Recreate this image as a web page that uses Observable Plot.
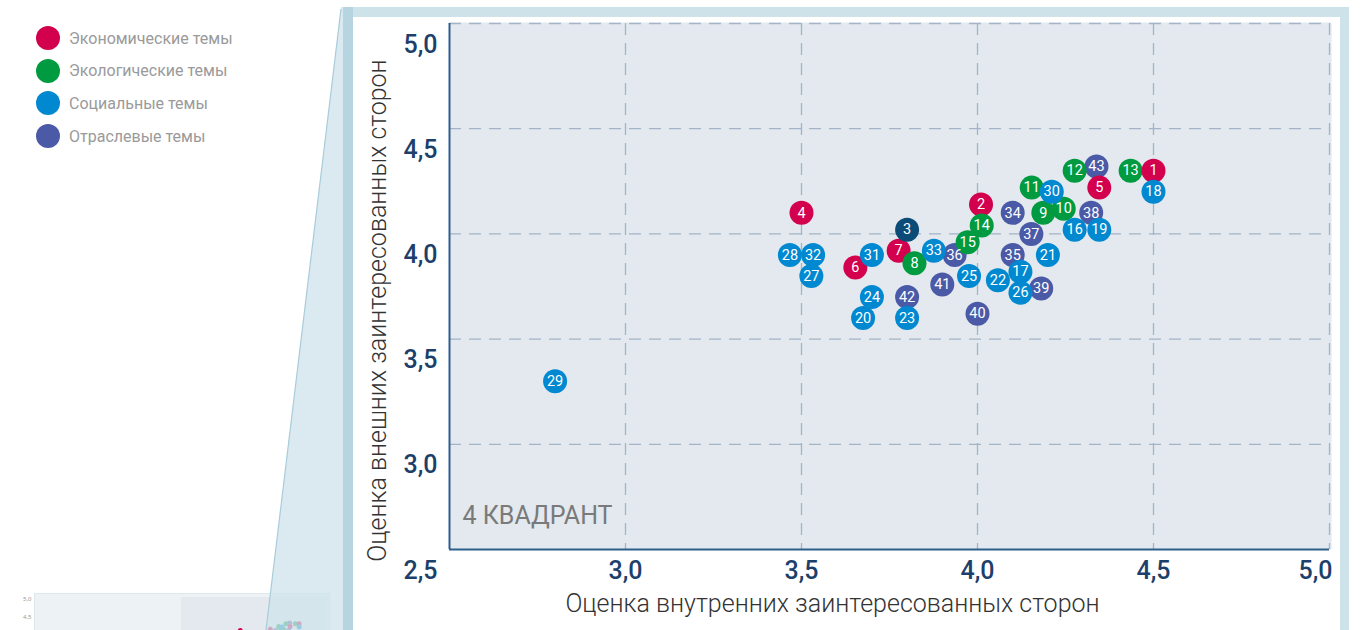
<!DOCTYPE html>
<html><head><meta charset="utf-8">
<script src="https://cdn.jsdelivr.net/npm/d3@7"></script>
<script src="https://cdn.jsdelivr.net/npm/@observablehq/plot@0.6"></script>
<style>
body{margin:0;background:#fff;font-family:Roboto,"Noto Sans",sans-serif;}
#wrap{position:relative;width:1363px;height:630px;overflow:hidden;background:#fff;}
.abs{position:absolute;}
#legend .item{position:absolute;left:36px;height:24px;display:flex;align-items:center;}
#legend .sw{width:24px;height:24px;border-radius:50%;margin-right:9px;}
#legend .lb{font-size:16px;color:#9a9a9a;font-weight:400;}
</style></head><body>
<div id="wrap">
  <div class="abs" style="left:343px;top:7px;width:1006px;height:623px;background:#cee2ea;"></div>
  <div class="abs" style="left:353px;top:17px;width:987px;height:613px;background:#fff;"></div>
  <div class="abs" style="left:34px;top:593px;width:294px;height:40px;background:#edf2f5;border:1px solid #dce8ee;"></div>
  <div class="abs" style="left:181px;top:597px;width:146px;height:40px;background:#e3e9ee;"></div>
  <div id="thumb" class="abs" style="left:0;top:593px;"></div>
  <svg class="abs" style="left:0;top:0" width="1363" height="630">
    <polygon points="341,7 266,630 343,630 343,7" fill="#cfe3eb" fill-opacity="0.75"/>
    <line x1="341" y1="9" x2="266" y2="630" stroke="#a9ccd9" stroke-width="1.2"/>
    <rect x="343" y="7" width="10" height="623" fill="#b7d5e1"/>
  </svg>
  <div id="legend" class="abs" style="left:0;top:0;width:340px;height:170px;"></div>
  <div id="main" class="abs" style="left:0;top:0;"></div>
</div>
<script>
// Categories
const catKeys = ["econ", "eco", "soc", "ind", "other"];
const catLabels = ["Экономические темы", "Экологические темы", "Социальные темы", "Отраслевые темы", ""];
const catColors = ["#d3004e", "#009b40", "#0088d0", "#4b5aa6", "#0c4a77"];

// Points (in drawing order)
const pointIds = [34,35,36,37,38,39,40,41,42,43, 2,7, 8,9,10,11,12,13,14,15, 1,4,5,6, 3,
  16,17,18,19,20,21,22,23,24,25,26,27,28,29,30,31,32,33];
const internalScores = [4.10,4.10,3.935,4.153,4.323,4.181,4.00,3.90,3.80,4.338, 4.01,3.776,
  3.821,4.187,4.245,4.154,4.276,4.435,4.012,3.972, 4.5,3.5,4.346,3.653, 3.80,
  4.276,4.122,4.5,4.346,3.675,4.20,4.058,3.80,3.70,3.976,4.122,3.528,3.467,2.80,4.211,3.70,3.533,3.876];
const externalScores = [4.10,3.90,3.90,4.00,4.10,3.74,3.62,3.76,3.70,4.32, 4.14,3.92,
  3.86,4.10,4.12,4.22,4.30,4.30,4.04,3.96, 4.30,4.10,4.22,3.84, 4.02,
  4.02,3.82,4.20,4.02,3.60,3.90,3.78,3.60,3.70,3.80,3.72,3.80,3.90,3.30,4.20,3.90,3.90,3.92];
const pointCats = ["ind","ind","ind","ind","ind","ind","ind","ind","ind","ind", "econ","econ",
  "eco","eco","eco","eco","eco","eco","eco","eco", "econ","econ","econ","econ", "other",
  "soc","soc","soc","soc","soc","soc","soc","soc","soc","soc","soc","soc","soc","soc","soc","soc","soc","soc"];

// Axis ticks & texts
const yTicks = [2.5, 3.0, 3.5, 4.0, 4.5, 5.0];
const xTicks = [3.0, 3.5, 4.0, 4.5];
const xLastTick = [5.0];
const gridTicks = [3.0, 3.5, 4.0, 4.5, 5.0];
const xTitle = "Оценка внутренних заинтересованных сторон";
const yTitle = "Оценка внешних заинтересованных сторон";
const quadrantLabel = "4 КВАДРАНТ";
const thumbTicks = [4.5, 5.0];

const rows = pointIds.map((id, i) => ({id, x: internalScores[i], y: externalScores[i], cat: pointCats[i]}));
const fmt = d => d.toFixed(1).replace(".", ",");

// Legend
const legend = document.getElementById("legend");
catKeys.forEach((k, i) => {
  if (!catLabels[i]) return;
  const it = document.createElement("div");
  it.className = "item";
  it.style.top = (26 + i * 32.7) + "px";
  it.innerHTML = `<div class="sw" style="background:${catColors[i]}"></div><div class="lb">${catLabels[i]}</div>`;
  legend.appendChild(it);
});

const colorScale = {domain: catKeys, range: catColors};

// Main chart
const main = Plot.plot({
  width: 1363, height: 630,
  marginLeft: 449, marginRight: 34, marginTop: 23, marginBottom: 81,
  style: {background: "transparent", color: "#1d3f6b", fontFamily: "Roboto, sans-serif", overflow: "visible"},
  x: {domain: [2.5, 5]},
  y: {domain: [2.5, 5]},
  color: colorScale,
  marks: [
    Plot.frame({fill: "#e3e9ee", insetTop: -1, insetRight: -2}),
    Plot.gridX({ticks: gridTicks, stroke: "#a3b4c8", strokeOpacity: 1, strokeWidth: 1.3, strokeDasharray: "12,8"}),
    Plot.gridY({ticks: gridTicks, stroke: "#a3b4c8", strokeOpacity: 1, strokeWidth: 1.3, strokeDasharray: "12,8"}),
    Plot.ruleX([2.5], {stroke: "#2d5f8b", strokeWidth: 2}),
    Plot.ruleY([2.5], {stroke: "#2d5f8b", strokeWidth: 2}),
    Plot.axisY({ticks: yTicks, tickSize: 0, tickPadding: 12, dy: 21, fontSize: 25, fontWeight: 500, tickFormat: fmt, label: null}),
    Plot.axisX({ticks: xTicks, tickSize: 0, tickPadding: 12, fontSize: 25, fontWeight: 500, tickFormat: fmt, label: null}),
    Plot.axisX({ticks: xLastTick, tickSize: 0, tickPadding: 12, fontSize: 25, fontWeight: 500, tickFormat: fmt, label: null, textAnchor: "end", dx: 3}),
    Plot.text([xTitle], {frameAnchor: "bottom", textAnchor: "middle", dx: -57, dy: 62, fontSize: 25, fontWeight: 300, fill: "#333"}),
    Plot.text([yTitle], {frameAnchor: "left", textAnchor: "middle", rotate: -90, dx: -72, dy: 24, fontSize: 25, fontWeight: 300, fill: "#333"}),
    Plot.text([quadrantLabel], {frameAnchor: "bottom-left", textAnchor: "start", dx: 13, dy: -26, fontSize: 25, fill: "#7a7a7a"}),
    Plot.dot(rows, {x: "x", y: "y", r: 12, fill: "cat"}),
    Plot.text(rows, {x: "x", y: "y", text: "id", fill: "white", fontSize: 14.5})
  ]
});
document.getElementById("main").appendChild(main);

// Thumbnail (mini overview)
const thumb = Plot.plot({
  width: 330, height: 37,
  marginLeft: 34, marginRight: 0, marginTop: 0, marginBottom: 0,
  style: {background: "transparent", color: "#999", overflow: "visible"},
  x: {domain: [0, 5], range: [34, 328], axis: null},
  y: {domain: [0, 5], range: [178.5, 6]},
  color: colorScale,
  marks: [
    Plot.axisY({ticks: thumbTicks, tickSize: 0, tickPadding: 3, fontSize: 6, tickFormat: fmt, label: null}),
    Plot.dot(rows, {x: "x", y: "y", r: 2.5, fill: "cat"})
  ]
});
document.getElementById("thumb").appendChild(thumb);
</script>
</body></html>
